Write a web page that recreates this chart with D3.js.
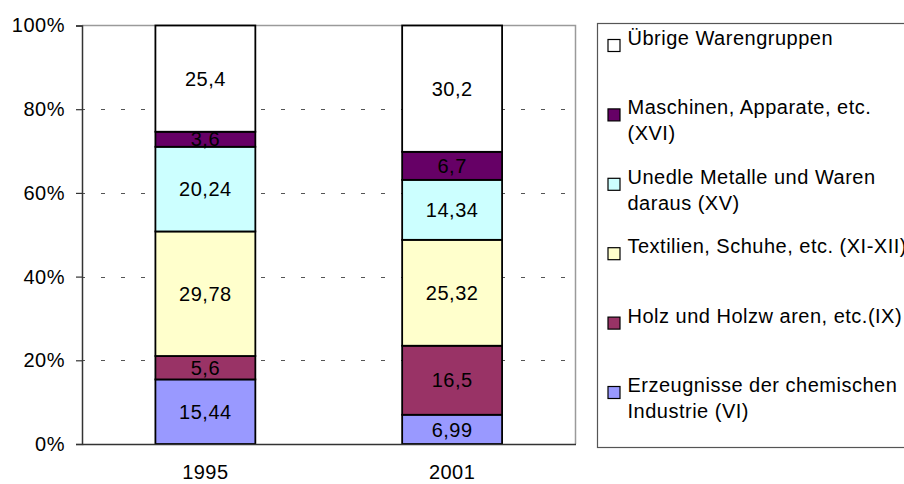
<html>
<head>
<meta charset="utf-8">
<title>Warengruppen 1995 / 2001</title>
<script src="https://cdn.jsdelivr.net/npm/d3@7"></script>
<style>
	body { margin: 0; background: #fff; }
	text { font-family: "Liberation Sans", Arial, sans-serif; fill: #000; }
</style>
</head>
<body>
<div id="chart"></div>
<script>
// categories and series (bottom to top of the stack)
var years = ["1995", "2001"];
var seriesNames = [
	"Erzeugnisse der chemischen|Industrie (VI)",
	"Holz und Holzw aren, etc.(IX)",
	"Textilien, Schuhe, etc. (XI-XII)",
	"Unedle Metalle und Waren|daraus (XV)",
	"Maschinen, Apparate, etc.|(XVI)",
	"Übrige Warengruppen"
];
var values1995 = [15.44, 5.6, 29.78, 20.24, 3.6, 25.4];
var values2001 = [6.99, 16.5, 25.32, 14.34, 6.7, 30.2];
var labels1995 = ["15,44", "5,6", "29,78", "20,24", "3,6", "25,4"];
var labels2001 = ["6,99", "16,5", "25,32", "14,34", "6,7", "30,2"];
var seriesColors = ["#9999ff", "#993366", "#ffffcc", "#ccffff", "#660066", "#ffffff"];
var yTicks = [0, 0.2, 0.4, 0.6, 0.8, 1];

var cfg = {
	width: 904,
	height: 484,
	plot: { left: 82, right: 575.5, top: 25.5, bottom: 444 },
	font: 20,
	spacing: "0.5px",
	legend: { x: 597.5, y: 23.5, w: 330, h: 424, firstY: 45, step: 69.4, line: 26 }
};

// build rows for d3.stack
var rows = years.map(function(y, i) {
	var vals = i === 0 ? values1995 : values2001;
	var labs = i === 0 ? labels1995 : labels2001;
	var r = { year: y, labels: labs };
	seriesNames.forEach(function(s, j) { r[s] = vals[j]; });
	return r;
});

var stack = d3.stack().keys(seriesNames).offset(d3.stackOffsetExpand);
var layers = stack(rows);

var x = d3.scaleBand()
	.domain(years)
	.range([cfg.plot.left, cfg.plot.right])
	.paddingInner(0.595)
	.paddingOuter(0.2975);

var y = d3.scaleLinear()
	.domain([0, 1])
	.range([cfg.plot.bottom, cfg.plot.top]);

var svg = d3.select("#chart").append("svg")
	.attr("width", cfg.width)
	.attr("height", cfg.height);

// grid lines (dashed), drawn under the bars
svg.append("g").selectAll("line")
	.data(yTicks.filter(function(t) { return t > 0 && t < 1; }))
	.enter().append("line")
	.attr("x1", cfg.plot.left)
	.attr("x2", cfg.plot.right)
	.attr("y1", function(d) { return Math.round(y(d)) + 0.5; })
	.attr("y2", function(d) { return Math.round(y(d)) + 0.5; })
	.style("stroke", "#555")
	.style("stroke-width", 1)
	.style("stroke-dasharray", "4,16")
	.style("stroke-dashoffset", 1);

// plot border: top and right in gray
svg.append("path")
	.attr("d", "M" + cfg.plot.left + "," + cfg.plot.top + "H" + cfg.plot.right + "V" + cfg.plot.bottom)
	.style("fill", "none")
	.style("stroke", "#9a9a9a")
	.style("stroke-width", 1.5);

// bars
var layerG = svg.append("g").selectAll("g")
	.data(layers)
	.enter().append("g")
	.style("fill", function(d, i) { return seriesColors[i]; });

layerG.selectAll("rect")
	.data(function(d) { return d; })
	.enter().append("rect")
	.attr("x", function(d) { return x(d.data.year); })
	.attr("width", x.bandwidth())
	.attr("y", function(d) { return y(d[1]); })
	.attr("height", function(d) { return y(d[0]) - y(d[1]); })
	.style("stroke", "#000")
	.style("stroke-width", 1.8);

// data labels
layers.forEach(function(layer, i) {
	svg.append("g").selectAll("text")
		.data(layer)
		.enter().append("text")
		.attr("x", function(d) { return x(d.data.year) + x.bandwidth() / 2; })
		.attr("y", function(d) { return (y(d[0]) + y(d[1])) / 2; })
		.attr("dy", ".36em")
		.attr("text-anchor", "middle")
		.style("font-size", cfg.font + "px")
		.style("letter-spacing", cfg.spacing)
		.text(function(d) { return d.data.labels[i]; });
});

// y axis
var yAxis = d3.axisLeft(y)
	.tickValues(yTicks)
	.tickSize(6)
	.tickPadding(11)
	.tickFormat(d3.format(".0%"));

var yg = svg.append("g")
	.attr("transform", "translate(" + cfg.plot.left + ",0)")
	.call(yAxis);
yg.select(".domain").style("stroke", "#333").style("stroke-width", 1.5);
yg.selectAll(".tick line").style("stroke", "#333").style("stroke-width", 1.2);
yg.selectAll(".tick text")
	.style("font-size", cfg.font + "px")
	.style("letter-spacing", cfg.spacing)
	.style("font-family", "'Liberation Sans', Arial, sans-serif")
	.style("fill", "#000");

// x axis
var xAxis = d3.axisBottom(x).tickSize(0).tickPadding(21);
var xg = svg.append("g")
	.attr("transform", "translate(0," + cfg.plot.bottom + ")")
	.call(xAxis);
xg.select(".domain").style("stroke", "#333").style("stroke-width", 1.5);
xg.selectAll(".tick text")
	.style("font-size", cfg.font + "px")
	.style("letter-spacing", cfg.spacing)
	.style("font-family", "'Liberation Sans', Arial, sans-serif")
	.style("fill", "#000");

// legend (top entry first)
var lg = svg.append("g");
lg.append("rect")
	.attr("x", cfg.legend.x)
	.attr("y", cfg.legend.y)
	.attr("width", cfg.legend.w)
	.attr("height", cfg.legend.h)
	.style("fill", "#fff")
	.style("stroke", "#555")
	.style("stroke-width", 1.2);

var legendItems = seriesNames.map(function(s, i) { return { name: s, color: seriesColors[i] }; }).reverse();

var items = lg.selectAll(".item")
	.data(legendItems)
	.enter().append("g")
	.attr("class", "item")
	.attr("transform", function(d, i) {
		return "translate(" + cfg.legend.x + "," + (cfg.legend.firstY + i * cfg.legend.step) + ")";
	});

items.append("rect")
	.attr("x", 10.5)
	.attr("y", -5.5)
	.attr("width", 12)
	.attr("height", 12)
	.style("fill", function(d) { return d.color; })
	.style("stroke", "#000")
	.style("stroke-width", 1.2);

items.append("text")
	.attr("x", 30)
	.attr("y", 0)
	.attr("dy", ".36em")
	.style("font-size", cfg.font + "px")
	.style("letter-spacing", cfg.spacing)
	.selectAll("tspan")
	.data(function(d) { return d.name.split("|"); })
	.enter().append("tspan")
	.attr("x", 30)
	.attr("dy", function(d, i) { return i === 0 ? 0 : cfg.legend.line; })
	.text(function(d) { return d; });
</script>
</body>
</html>
